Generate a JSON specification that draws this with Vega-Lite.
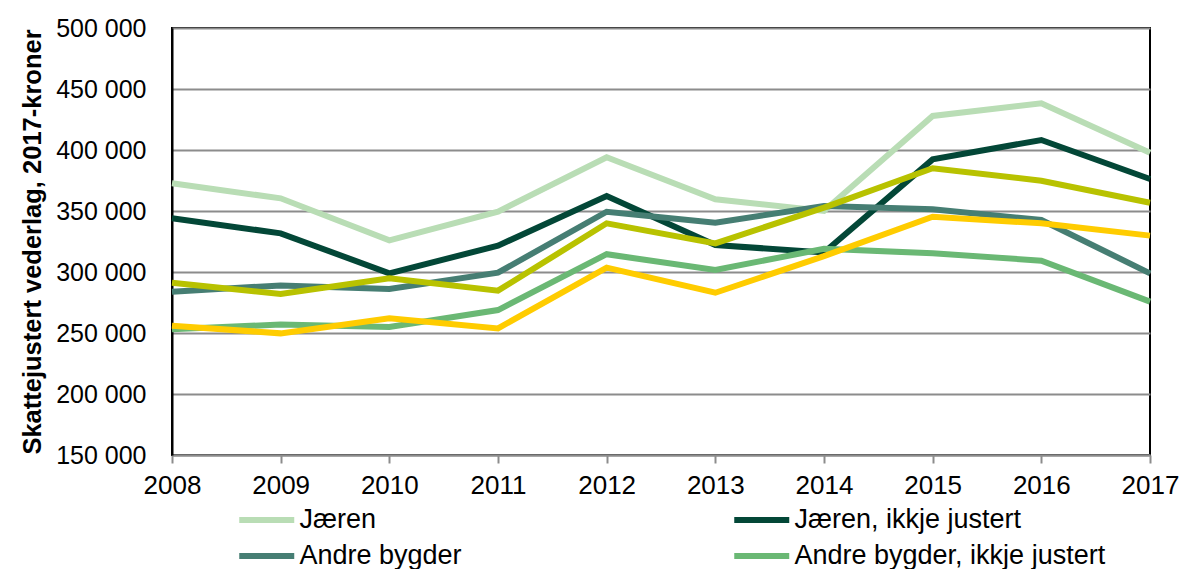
{
  "$schema": "https://vega.github.io/schema/vega-lite/v6.json",
  "autosize": "none",
  "width": 978,
  "height": 427,
  "padding": {"left": 172, "top": 28, "right": 32, "bottom": 114},
  "background": "white",
  "config": {
    "font": "Liberation Sans",
    "view": {"stroke": "#000000", "strokeWidth": 2}
  },
  "data": {
    "values": [
      {"year": 2008, "series": "Jæren", "value": 372700},
      {"year": 2009, "series": "Jæren", "value": 360400},
      {"year": 2010, "series": "Jæren", "value": 326000},
      {"year": 2011, "series": "Jæren", "value": 349400},
      {"year": 2012, "series": "Jæren", "value": 394000},
      {"year": 2013, "series": "Jæren", "value": 359600},
      {"year": 2014, "series": "Jæren", "value": 350000},
      {"year": 2015, "series": "Jæren", "value": 427900},
      {"year": 2016, "series": "Jæren", "value": 438300},
      {"year": 2017, "series": "Jæren", "value": 397800},
      {"year": 2008, "series": "Jæren, ikkje justert", "value": 344000},
      {"year": 2009, "series": "Jæren, ikkje justert", "value": 331700},
      {"year": 2010, "series": "Jæren, ikkje justert", "value": 298900},
      {"year": 2011, "series": "Jæren, ikkje justert", "value": 321600},
      {"year": 2012, "series": "Jæren, ikkje justert", "value": 362300},
      {"year": 2013, "series": "Jæren, ikkje justert", "value": 322100},
      {"year": 2014, "series": "Jæren, ikkje justert", "value": 316000},
      {"year": 2015, "series": "Jæren, ikkje justert", "value": 392300},
      {"year": 2016, "series": "Jæren, ikkje justert", "value": 408200},
      {"year": 2017, "series": "Jæren, ikkje justert", "value": 376200},
      {"year": 2008, "series": "Andre bygder", "value": 283900},
      {"year": 2009, "series": "Andre bygder", "value": 289000},
      {"year": 2010, "series": "Andre bygder", "value": 286100},
      {"year": 2011, "series": "Andre bygder", "value": 299400},
      {"year": 2012, "series": "Andre bygder", "value": 349400},
      {"year": 2013, "series": "Andre bygder", "value": 340400},
      {"year": 2014, "series": "Andre bygder", "value": 354100},
      {"year": 2015, "series": "Andre bygder", "value": 351400},
      {"year": 2016, "series": "Andre bygder", "value": 342600},
      {"year": 2017, "series": "Andre bygder", "value": 298900},
      {"year": 2008, "series": "Andre bygder, ikkje justert", "value": 253000},
      {"year": 2009, "series": "Andre bygder, ikkje justert", "value": 257000},
      {"year": 2010, "series": "Andre bygder, ikkje justert", "value": 255000},
      {"year": 2011, "series": "Andre bygder, ikkje justert", "value": 268800},
      {"year": 2012, "series": "Andre bygder, ikkje justert", "value": 314600},
      {"year": 2013, "series": "Andre bygder, ikkje justert", "value": 301600},
      {"year": 2014, "series": "Andre bygder, ikkje justert", "value": 319000},
      {"year": 2015, "series": "Andre bygder, ikkje justert", "value": 315300},
      {"year": 2016, "series": "Andre bygder, ikkje justert", "value": 309300},
      {"year": 2017, "series": "Andre bygder, ikkje justert", "value": 275700},
      {"year": 2008, "series": "Landet", "value": 291200},
      {"year": 2009, "series": "Landet", "value": 281900},
      {"year": 2010, "series": "Landet", "value": 294800},
      {"year": 2011, "series": "Landet", "value": 284700},
      {"year": 2012, "series": "Landet", "value": 339900},
      {"year": 2013, "series": "Landet", "value": 323500},
      {"year": 2014, "series": "Landet", "value": 352800},
      {"year": 2015, "series": "Landet", "value": 385000},
      {"year": 2016, "series": "Landet", "value": 374800},
      {"year": 2017, "series": "Landet", "value": 356800},
      {"year": 2008, "series": "Landet, ikkje justert", "value": 256000},
      {"year": 2009, "series": "Landet, ikkje justert", "value": 249700},
      {"year": 2010, "series": "Landet, ikkje justert", "value": 262000},
      {"year": 2011, "series": "Landet, ikkje justert", "value": 253800},
      {"year": 2012, "series": "Landet, ikkje justert", "value": 303600},
      {"year": 2013, "series": "Landet, ikkje justert", "value": 283000},
      {"year": 2014, "series": "Landet, ikkje justert", "value": 313000},
      {"year": 2015, "series": "Landet, ikkje justert", "value": 345300},
      {"year": 2016, "series": "Landet, ikkje justert", "value": 339900},
      {"year": 2017, "series": "Landet, ikkje justert", "value": 329800}
    ]
  },
  "mark": {"type": "line", "strokeWidth": 6, "strokeJoin": "miter", "strokeCap": "butt"},
  "encoding": {
    "x": {
      "field": "year",
      "type": "quantitative",
      "scale": {"domain": [2008, 2017], "nice": false, "zero": false},
      "axis": {
        "title": null,
        "values": [2008, 2009, 2010, 2011, 2012, 2013, 2014, 2015, 2016, 2017],
        "format": "d",
        "grid": false,
        "domainColor": "#8C8C8C",
        "domainWidth": 2,
        "ticks": true,
        "tickColor": "#8C8C8C",
        "tickWidth": 2,
        "tickSize": 8,
        "labelFont": "Liberation Sans",
        "labelFontSize": 26,
        "labelColor": "#000000",
        "labelPadding": 9,
        "labelFlush": false,
        "labelOverlap": false
      }
    },
    "y": {
      "field": "value",
      "type": "quantitative",
      "scale": {"domain": [150000, 500000], "nice": false, "zero": false},
      "axis": {
        "title": "Skattejustert vederlag, 2017-kroner",
        "titleFont": "Liberation Sans",
        "titleFontSize": 25.5,
        "titleFontWeight": "bold",
        "titleColor": "#000000",
        "titlePadding": 10,
        "values": [150000, 200000, 250000, 300000, 350000, 400000, 450000, 500000],
        "labelExpr": "replace(format(datum.value, ',d'), ',', ' ')",
        "grid": true,
        "gridColor": "#8C8C8C",
        "gridWidth": 2,
        "domainColor": "#000000",
        "domainWidth": 2,
        "ticks": false,
        "labelFont": "Liberation Sans",
        "labelFontSize": 25,
        "labelColor": "#000000",
        "labelPadding": 26
      }
    },
    "color": {
      "field": "series",
      "type": "nominal",
      "sort": null,
      "scale": {
        "domain": ["Jæren", "Jæren, ikkje justert", "Andre bygder", "Andre bygder, ikkje justert", "Landet", "Landet, ikkje justert"],
        "range": ["#B9DDB5", "#034737", "#467E73", "#6AB874", "#B8C200", "#FFCC00"]
      },
      "legend": {
        "title": null,
        "orient": "none",
        "legendX": 64,
        "legendY": 475,
        "direction": "horizontal",
        "columns": 2,
        "values": ["Jæren", "Jæren, ikkje justert", "Andre bygder", "Andre bygder, ikkje justert"],
        "symbolType": "M-1,0L3,0",
        "symbolSize": 756,
        "symbolStrokeWidth": 6,
        "symbolOffset": 0,
        "labelOffset": 29.5,
        "labelFont": "Liberation Sans",
        "labelFontSize": 27,
        "labelColor": "#000000",
        "labelLimit": 400,
        "columnPadding": 260,
        "rowPadding": 6
      }
    }
  }
}
